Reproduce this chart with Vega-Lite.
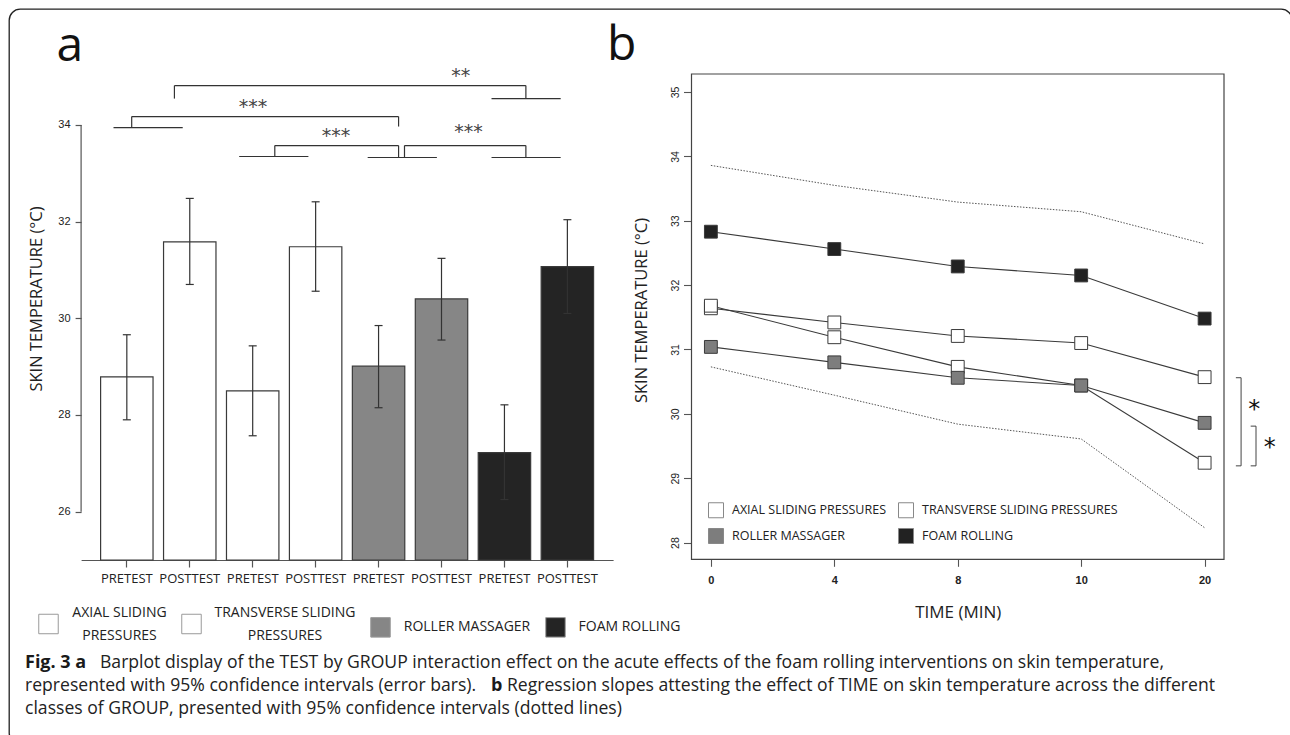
{
  "$schema": "https://vega.github.io/schema/vega-lite/v6.json",
  "width": 1283,
  "height": 735,
  "autosize": {"type": "none"},
  "padding": {"left": 9, "top": 9, "right": 0, "bottom": 0},
  "background": "white",
  "config": {
    "view": {"stroke": "#222222", "strokeWidth": 1.3, "cornerRadius": 11, "fill": "white"},
    "font": "Open Sans",
    "axis": {"grid": false, "labelColor": "#222222", "titleColor": "#222222", "tickColor": "#555555", "domainColor": "#555555", "labelOverlap": false, "labelFlush": false},
    "legend": {"labelColor": "#222222", "labelFont": "Open Sans"}
  },
  "datasets": {
    "bars": [
      {"bar": "AXIAL PRETEST", "group": "AXIAL SLIDING PRESSURES", "test": "PRETEST", "mean": 28.79, "lo": 27.90, "hi": 29.66},
      {"bar": "AXIAL POSTTEST", "group": "AXIAL SLIDING PRESSURES", "test": "POSTTEST", "mean": 31.58, "lo": 30.70, "hi": 32.48},
      {"bar": "TRANSVERSE PRETEST", "group": "TRANSVERSE SLIDING PRESSURES", "test": "PRETEST", "mean": 28.50, "lo": 27.57, "hi": 29.43},
      {"bar": "TRANSVERSE POSTTEST", "group": "TRANSVERSE SLIDING PRESSURES", "test": "POSTTEST", "mean": 31.48, "lo": 30.56, "hi": 32.41},
      {"bar": "ROLLER PRETEST", "group": "ROLLER MASSAGER", "test": "PRETEST", "mean": 29.01, "lo": 28.15, "hi": 29.85},
      {"bar": "ROLLER POSTTEST", "group": "ROLLER MASSAGER", "test": "POSTTEST", "mean": 30.40, "lo": 29.55, "hi": 31.24},
      {"bar": "FOAM PRETEST", "group": "FOAM ROLLING", "test": "PRETEST", "mean": 27.22, "lo": 26.25, "hi": 28.21},
      {"bar": "FOAM POSTTEST", "group": "FOAM ROLLING", "test": "POSTTEST", "mean": 31.07, "lo": 30.10, "hi": 32.04}
    ],
    "slopes": [
      {"group": "AXIAL SLIDING PRESSURES", "time": "0", "temp": 31.64},
      {"group": "AXIAL SLIDING PRESSURES", "time": "4", "temp": 31.42},
      {"group": "AXIAL SLIDING PRESSURES", "time": "8", "temp": 31.21},
      {"group": "AXIAL SLIDING PRESSURES", "time": "10", "temp": 31.10},
      {"group": "AXIAL SLIDING PRESSURES", "time": "20", "temp": 30.57},
      {"group": "TRANSVERSE SLIDING PRESSURES", "time": "0", "temp": 31.68},
      {"group": "TRANSVERSE SLIDING PRESSURES", "time": "4", "temp": 31.19},
      {"group": "TRANSVERSE SLIDING PRESSURES", "time": "8", "temp": 30.73},
      {"group": "TRANSVERSE SLIDING PRESSURES", "time": "10", "temp": 30.44},
      {"group": "TRANSVERSE SLIDING PRESSURES", "time": "20", "temp": 29.24},
      {"group": "ROLLER MASSAGER", "time": "0", "temp": 31.04},
      {"group": "ROLLER MASSAGER", "time": "4", "temp": 30.80},
      {"group": "ROLLER MASSAGER", "time": "8", "temp": 30.56},
      {"group": "ROLLER MASSAGER", "time": "10", "temp": 30.44},
      {"group": "ROLLER MASSAGER", "time": "20", "temp": 29.86},
      {"group": "FOAM ROLLING", "time": "0", "temp": 32.83},
      {"group": "FOAM ROLLING", "time": "4", "temp": 32.56},
      {"group": "FOAM ROLLING", "time": "8", "temp": 32.29},
      {"group": "FOAM ROLLING", "time": "10", "temp": 32.15},
      {"group": "FOAM ROLLING", "time": "20", "temp": 31.48}
    ],
    "ci": [
      {"bound": "upper", "time": "0", "temp": 33.86},
      {"bound": "upper", "time": "4", "temp": 33.55},
      {"bound": "upper", "time": "8", "temp": 33.29},
      {"bound": "upper", "time": "10", "temp": 33.14},
      {"bound": "upper", "time": "20", "temp": 32.64},
      {"bound": "lower", "time": "0", "temp": 30.73},
      {"bound": "lower", "time": "4", "temp": 30.29},
      {"bound": "lower", "time": "8", "temp": 29.84},
      {"bound": "lower", "time": "10", "temp": 29.61},
      {"bound": "lower", "time": "20", "temp": 28.23}
    ],
    "bracketsA": [
      {"x1": 1.752, "x2": 7.337, "y1": 34.814, "y2": 34.814},
      {"x1": 1.752, "x2": 1.752, "y1": 34.814, "y2": 34.545},
      {"x1": 7.337, "x2": 7.337, "y1": 34.814, "y2": 34.545},
      {"x1": 6.791, "x2": 7.890, "y1": 34.545, "y2": 34.545},
      {"x1": 1.073, "x2": 5.314, "y1": 34.174, "y2": 34.174},
      {"x1": 1.073, "x2": 1.073, "y1": 34.174, "y2": 33.946},
      {"x1": 0.784, "x2": 1.884, "y1": 33.946, "y2": 33.946},
      {"x1": 5.314, "x2": 5.314, "y1": 34.174, "y2": 33.967},
      {"x1": 3.347, "x2": 5.314, "y1": 33.574, "y2": 33.574},
      {"x1": 3.347, "x2": 3.347, "y1": 33.574, "y2": 33.347},
      {"x1": 2.781, "x2": 3.881, "y1": 33.347, "y2": 33.347},
      {"x1": 5.314, "x2": 5.314, "y1": 33.574, "y2": 33.326},
      {"x1": 4.823, "x2": 5.923, "y1": 33.326, "y2": 33.326},
      {"x1": 5.408, "x2": 7.337, "y1": 33.574, "y2": 33.574},
      {"x1": 5.408, "x2": 5.408, "y1": 33.574, "y2": 33.326},
      {"x1": 7.337, "x2": 7.337, "y1": 33.574, "y2": 33.326},
      {"x1": 6.791, "x2": 7.890, "y1": 33.326, "y2": 33.326}
    ],
    "starsA": [
      {"x": 6.301, "y": 34.88, "label": "**"},
      {"x": 3.0, "y": 34.24, "label": "***"},
      {"x": 4.320, "y": 33.64, "label": "***"},
      {"x": 6.427, "y": 33.72, "label": "***"}
    ],
    "bracketsB": [
      {"x1": 1.0223, "x2": 1.0321, "y1": 30.561, "y2": 30.561},
      {"x1": 1.0321, "x2": 1.0321, "y1": 30.561, "y2": 29.192},
      {"x1": 1.0223, "x2": 1.0321, "y1": 29.192, "y2": 29.192},
      {"x1": 1.0501, "x2": 1.0601, "y1": 29.809, "y2": 29.809},
      {"x1": 1.0601, "x2": 1.0601, "y1": 29.809, "y2": 29.192},
      {"x1": 1.0501, "x2": 1.0601, "y1": 29.192, "y2": 29.192}
    ],
    "starsB": [
      {"x": 1.0569, "y": 29.954, "label": "*"},
      {"x": 1.0858, "y": 29.357, "label": "*"}
    ],
    "caption": [
      {"line": 1, "part": "A", "text": "Fig. 3 a"},
      {"line": 1, "part": "C", "text": "Barplot display of the TEST by GROUP interaction effect on the acute effects of the foam rolling interventions on skin temperature,"},
      {"line": 2, "part": "B", "text": "represented with 95% confidence intervals (error bars)."},
      {"line": 2, "part": "D", "text": "b"},
      {"line": 2, "part": "E", "text": "Regression slopes attesting the effect of TIME on skin temperature across the different"},
      {"line": 3, "part": "B", "text": "classes of GROUP, presented with 95% confidence intervals (dotted lines)"}
    ]
  },
  "resolve": {"scale": {"x": "independent", "y": "independent", "fill": "independent"}},
  "layer": [
    {
      "resolve": {"scale": {"x": "independent"}},
      "layer": [
        {
          "data": {"name": "bars"},
          "layer": [
            {
              "mark": {"type": "bar", "stroke": "#3a3a3a", "strokeWidth": 1.2},
              "encoding": {
                "x": {
                  "field": "bar", "type": "nominal",
                  "scale": {"type": "band", "domain": ["AXIAL PRETEST", "AXIAL POSTTEST", "TRANSVERSE PRETEST", "TRANSVERSE POSTTEST", "ROLLER PRETEST", "ROLLER POSTTEST", "FOAM PRETEST", "FOAM POSTTEST"], "range": [72.1, 604.1], "paddingInner": 0.167, "paddingOuter": 0.31, "align": 0.5},
                  "axis": {"orient": "bottom", "offset": -184, "title": null, "labelExpr": "split(datum.label, ' ')[1]", "labelAngle": 0, "labelFont": "Open Sans", "labelFontSize": 13, "labelPadding": 5, "tickSize": 7, "tickWidth": 1.2, "domainWidth": 1.2}
                },
                "y": {
                  "field": "mean", "type": "quantitative",
                  "scale": {"domain": [25, 35], "range": [551, 67.6], "zero": false, "nice": false},
                  "axis": {"orient": "left", "offset": -72.1, "values": [26, 28, 30, 32, 34], "format": "d", "domain": false, "tickSize": 6, "tickWidth": 1.2, "labelFont": "Liberation Sans", "labelFontSize": 11, "labelPadding": 5, "title": "SKIN TEMPERATURE (°C)", "titleFont": "Open Sans", "titleFontSize": 16.5, "titleFontWeight": "normal", "titleAngle": -90, "titleAlign": "center", "titleBaseline": "middle", "titleX": -44.3, "titleY": 289.5}
                },
                "y2": {"datum": 25},
                "fill": {
                  "field": "group", "type": "nominal",
                  "scale": {"domain": ["AXIAL SLIDING PRESSURES", "TRANSVERSE SLIDING PRESSURES", "ROLLER MASSAGER", "FOAM ROLLING"], "range": ["#ffffff", "#ffffff", "#868686", "#242424"]},
                  "legend": {"orient": "none", "legendX": 29, "legendY": 604.5, "direction": "horizontal", "title": null, "symbolType": "square", "symbolSize": 380, "symbolStrokeColor": "#9a9a9a", "symbolStrokeWidth": 1, "labelFontSize": 14, "labelLimit": 400, "labelOffset": 13, "columnPadding": 12, "labelBaseline": "middle", "labelAlign": "center",
                    "labelExpr": "indexof(datum.label, 'SLIDING') >= 0 ? [replace(datum.label, ' PRESSURES', ''), 'PRESSURES'] : datum.label",
                    "encode": {"labels": {"update": {
                      "lineHeight": {"value": 23},
                      "dy": {"signal": "indexof(datum.value, 'SLIDING') >= 0 ? -11.5 : 0"},
                      "dx": {"signal": "datum.value == 'AXIAL SLIDING PRESSURES' ? 47.5 : datum.value == 'TRANSVERSE SLIDING PRESSURES' ? 70 : datum.value == 'ROLLER MASSAGER' ? 63 : 50.5"}
                    }}}}
                }
              }
            },
            {
              "mark": {"type": "rule", "stroke": "#333333", "strokeWidth": 1.2},
              "encoding": {"x": {"field": "bar", "type": "nominal"}, "y": {"field": "lo", "type": "quantitative"}, "y2": {"field": "hi"}}
            },
            {
              "mark": {"type": "tick", "color": "#333333", "thickness": 1.2, "size": 8, "opacity": 1},
              "encoding": {"x": {"field": "bar", "type": "nominal"}, "y": {"field": "lo", "type": "quantitative"}}
            },
            {
              "mark": {"type": "tick", "color": "#333333", "thickness": 1.2, "size": 8, "opacity": 1},
              "encoding": {"x": {"field": "bar", "type": "nominal"}, "y": {"field": "hi", "type": "quantitative"}}
            }
          ]
        },
        {
          "layer": [
            {
              "data": {"values": [{}]},
              "mark": {"type": "rule", "stroke": "#555555", "strokeWidth": 1.2},
              "encoding": {
                "x": {"datum": 0.269, "type": "quantitative", "scale": {"domain": [0.269, 8.723], "range": [72.1, 604.1], "zero": false, "nice": false}, "axis": null},
                "y": {"datum": 26, "type": "quantitative"},
                "y2": {"datum": 34}
              }
            },
            {
              "data": {"name": "bracketsA"},
              "mark": {"type": "rule", "stroke": "#333333", "strokeWidth": 1.2},
              "encoding": {
                "x": {"field": "x1", "type": "quantitative", "axis": null},
                "x2": {"field": "x2"},
                "y": {"field": "y1", "type": "quantitative"},
                "y2": {"field": "y2"}
              }
            },
            {
              "data": {"name": "starsA"},
              "mark": {"type": "text", "font": "DejaVu Sans", "fontSize": 19, "color": "#444444", "align": "center", "baseline": "alphabetic"},
              "encoding": {
                "x": {"field": "x", "type": "quantitative", "axis": null},
                "y": {"field": "y", "type": "quantitative"},
                "text": {"field": "label"}
              }
            },
            {
              "data": {"values": [{"label": "a"}]},
              "mark": {"type": "text", "font": "Open Sans", "fontSize": 48, "color": "#111111", "align": "left", "baseline": "alphabetic"},
              "encoding": {
                "x": {"datum": -0.12, "type": "quantitative", "axis": null},
                "y": {"datum": 35.33, "type": "quantitative"},
                "text": {"field": "label"}
              }
            }
          ]
        }
      ]
    },
    {
      "resolve": {"scale": {"x": "independent"}},
      "layer": [
        {
          "layer": [
            {
              "data": {"name": "ci"},
              "mark": {"type": "line", "stroke": "#555555", "strokeWidth": 1, "strokeDash": [1.5, 1.5]},
              "encoding": {
                "x": {
                  "field": "time", "type": "ordinal",
                  "scale": {"type": "point", "domain": ["0", "4", "8", "10", "20"], "range": [682.5, 1215], "padding": 0.157},
                  "axis": {"orient": "bottom", "offset": -184.7, "domain": false, "labelAngle": 0, "tickSize": 7, "tickWidth": 1.1, "labelFont": "Liberation Sans", "labelFontWeight": "bold", "labelFontSize": 11, "labelPadding": 8, "title": "TIME (MIN)", "titleFont": "Open Sans", "titleFontSize": 17, "titleFontWeight": "normal", "titlePadding": 19}
                },
                "y": {
                  "field": "temp", "type": "quantitative",
                  "scale": {"domain": [27.74, 35.28], "range": [550.3, 65], "zero": false, "nice": false},
                  "axis": {"orient": "left", "offset": -682.5, "domain": false, "values": [28, 29, 30, 31, 32, 33, 34, 35], "format": "d", "tickSize": 8, "tickWidth": 1.1, "labelAngle": -90, "labelAlign": "center", "labelBaseline": "bottom", "labelPadding": 3, "labelFont": "Liberation Sans", "labelFontSize": 10.5, "title": "SKIN TEMPERATURE (°C)", "titleFont": "Open Sans", "titleFontSize": 16.5, "titleFontWeight": "normal", "titleAngle": -90, "titleAlign": "center", "titleBaseline": "middle", "titleX": -49.7, "titleY": 301}
                },
                "detail": {"field": "bound"}
              }
            },
            {
              "data": {"name": "slopes"},
              "mark": {"type": "line", "stroke": "#3a3a3a", "strokeWidth": 1.1},
              "encoding": {
                "x": {"field": "time", "type": "ordinal"},
                "y": {"field": "temp", "type": "quantitative"},
                "detail": {"field": "group"}
              }
            },
            {
              "data": {"name": "slopes"},
              "mark": {"type": "point", "shape": "square", "filled": true, "size": 165, "stroke": "#3a3a3a", "strokeWidth": 1, "opacity": 1},
              "encoding": {
                "x": {"field": "time", "type": "ordinal"},
                "y": {"field": "temp", "type": "quantitative"},
                "fill": {
                  "field": "group", "type": "nominal",
                  "scale": {"domain": ["AXIAL SLIDING PRESSURES", "ROLLER MASSAGER", "TRANSVERSE SLIDING PRESSURES", "FOAM ROLLING"], "range": ["#ffffff", "#7d7d7d", "#ffffff", "#222222"]},
                  "legend": {"orient": "none", "legendX": 699, "legendY": 493, "columns": 2, "title": null, "symbolType": "square", "symbolSize": 225, "symbolStrokeColor": "#888888", "symbolStrokeWidth": 1, "labelFontSize": 12.5, "labelLimit": 400, "labelOffset": 8, "columnPadding": 10, "rowPadding": 6}
                }
              }
            }
          ]
        },
        {
          "layer": [
            {
              "data": {"values": [{}]},
              "mark": {"type": "rect", "fillOpacity": 0, "stroke": "#444444", "strokeWidth": 1.2},
              "encoding": {
                "x": {"datum": 0, "type": "quantitative", "scale": {"domain": [0, 1], "range": [682.5, 1215], "zero": false, "nice": false}, "axis": null},
                "x2": {"datum": 1},
                "y": {"datum": 27.74, "type": "quantitative"},
                "y2": {"datum": 35.28}
              }
            },
            {
              "data": {"name": "bracketsB"},
              "mark": {"type": "rule", "stroke": "#444444", "strokeWidth": 1},
              "encoding": {
                "x": {"field": "x1", "type": "quantitative", "axis": null},
                "x2": {"field": "x2"},
                "y": {"field": "y1", "type": "quantitative"},
                "y2": {"field": "y2"}
              }
            },
            {
              "data": {"name": "starsB"},
              "mark": {"type": "text", "font": "DejaVu Sans", "fontSize": 24, "color": "#111111", "align": "center", "baseline": "alphabetic"},
              "encoding": {
                "x": {"field": "x", "type": "quantitative", "axis": null},
                "y": {"field": "y", "type": "quantitative"},
                "text": {"field": "label"}
              }
            },
            {
              "data": {"values": [{"label": "b"}]},
              "mark": {"type": "text", "font": "Open Sans", "fontSize": 48, "color": "#111111", "align": "left", "baseline": "alphabetic"},
              "encoding": {
                "x": {"datum": -0.1587, "type": "quantitative", "axis": null},
                "y": {"datum": 35.502, "type": "quantitative"},
                "text": {"field": "label"}
              }
            }
          ]
        }
      ]
    },
    {
      "data": {"name": "caption"},
      "encoding": {
        "x": {"datum": 0, "type": "quantitative", "scale": {"domain": [0, 1], "range": [16, 1266], "zero": false, "nice": false}, "axis": null},
        "y": {"field": "line", "type": "ordinal", "scale": {"type": "point", "domain": [1, 2, 3], "range": [654, 700], "padding": 0}, "axis": null},
        "text": {"field": "text"}
      },
      "layer": [
        {"transform": [{"filter": "datum.part == 'A'"}], "mark": {"type": "text", "font": "Open Sans", "fontSize": 18, "fontWeight": "bold", "color": "#1a1a1a", "align": "left", "baseline": "middle"}},
        {"transform": [{"filter": "datum.part == 'B'"}], "mark": {"type": "text", "font": "Open Sans", "fontSize": 17.6, "color": "#222222", "align": "left", "baseline": "middle"}},
        {"transform": [{"filter": "datum.part == 'C'"}], "mark": {"type": "text", "font": "Open Sans", "fontSize": 17.6, "color": "#222222", "align": "left", "baseline": "middle", "dx": 75}},
        {"transform": [{"filter": "datum.part == 'D'"}], "mark": {"type": "text", "font": "Open Sans", "fontSize": 18, "fontWeight": "bold", "color": "#1a1a1a", "align": "left", "baseline": "middle", "dx": 466}},
        {"transform": [{"filter": "datum.part == 'E'"}], "mark": {"type": "text", "font": "Open Sans", "fontSize": 17.6, "color": "#222222", "align": "left", "baseline": "middle", "dx": 482}}
      ]
    }
  ]
}
